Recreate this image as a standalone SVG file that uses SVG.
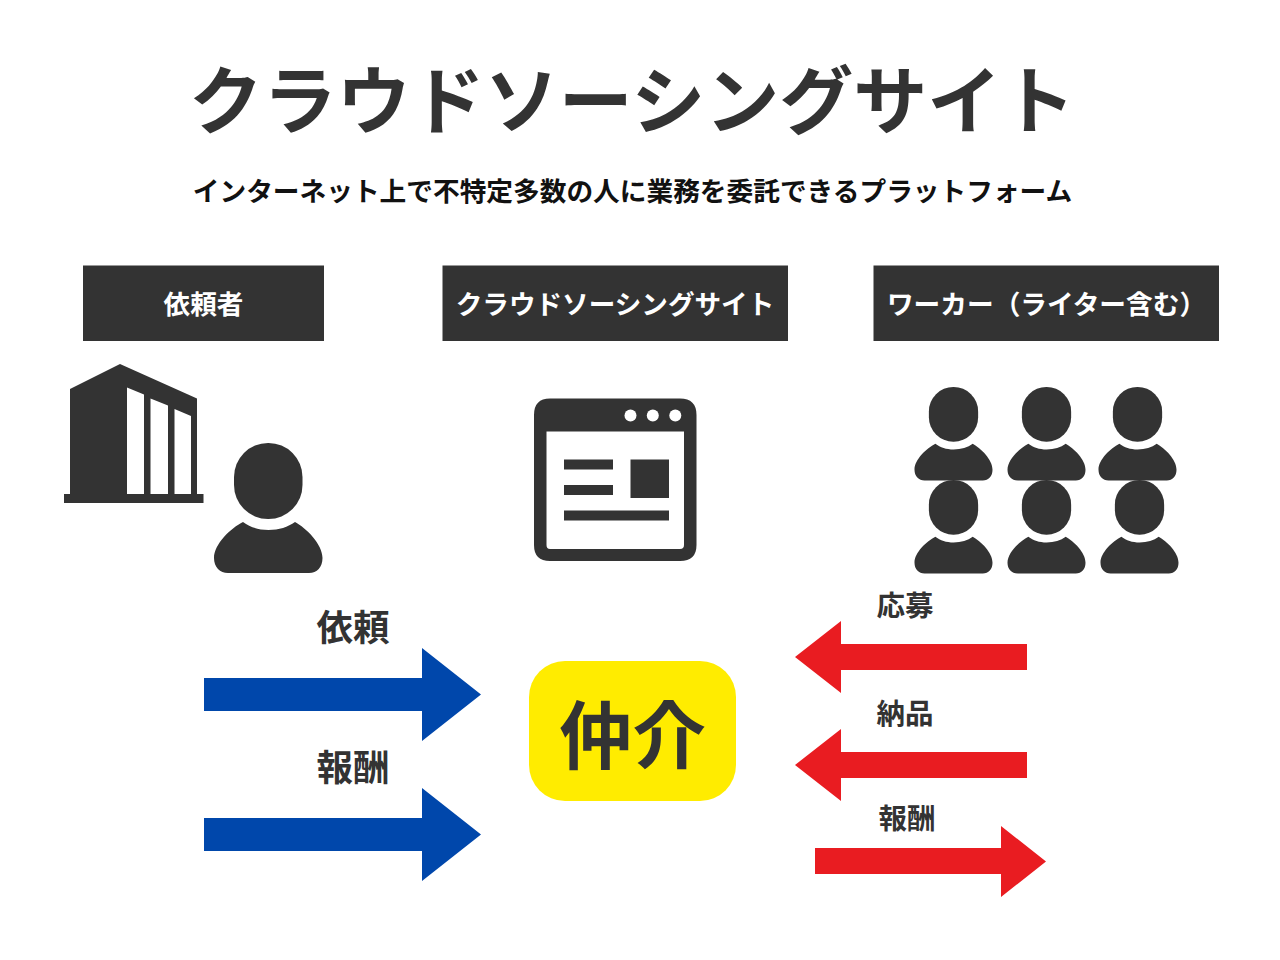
<svg xmlns="http://www.w3.org/2000/svg" width="1280" height="960" viewBox="0 0 1280 960">
<style>
text{font-family:"Noto Sans CJK JP","Noto Sans CJK SC",sans-serif;font-weight:700;fill:#333;text-anchor:middle}
.ic{fill:#333}
.w{fill:#fff}
.bl{fill:#0047ab}
.rd{fill:#e91c21}
</style>
<defs>
<g id="person">
<rect x="20" y="0" width="68.5" height="76" rx="34" ry="34"/>
<path d="M29 79C36 84 44 87 54.500 87C65 87 74 84 81 79C92 85 108.500 101 108.500 115C108.500 124 103 130 95 130L14 130C6 130 0 124 0 115C0 101 17 85 29 79Z"/>
</g>
</defs>
<rect width="1280" height="960" fill="#fff"/>
<text id="title" x="632" y="127.500" font-size="74">クラウドソーシングサイト</text>
<text id="subtitle" x="632.500" y="200.500" font-size="26.700" style="fill:#111">インターネット上で不特定多数の人に業務を委託できるプラットフォーム</text>
<g id="header-client"><rect class="ic" x="83" y="265.500" width="241" height="75.500"/><text style="fill:#fff" x="203.500" y="314" font-size="26.600">依頼者</text></g>
<g id="header-site"><rect class="ic" x="442.500" y="265.500" width="345.500" height="75.500"/><text style="fill:#fff" x="615" y="314" font-size="26.600">クラウドソーシングサイト</text></g>
<g id="header-worker"><rect class="ic" x="873.500" y="265.500" width="345.500" height="75.500"/><text style="fill:#fff" x="1046.500" y="314" font-size="26.700">ワーカー（ライター含む）</text></g>
<g id="client" class="ic">
<path fill-rule="evenodd" d="M70 389L120 364L197 398.500L197 494L203.500 494L203.500 503L64 503L64 494L70 494ZM127 387.500L127 494L144 494L144 394.500ZM150.500 398.500L150.500 494L168 494L168 405.500ZM174.500 409L174.500 494L191 494L191 416Z"/>
<use href="#person" x="214" y="443"/>
</g>
<g id="site" class="ic">
<path fill-rule="evenodd" d="M550 398.500L680 398.500Q696.500 398.500 696.500 415L696.500 545Q696.500 561 680 561L550 561Q534 561 534 545L534 415Q534 398.500 550 398.500ZM546.500 431.500L546.500 545Q546.500 549 550 549L680 549Q684 549 684 545L684 431.500Z"/>
<circle class="w" cx="630.500" cy="415.500" r="6"/><circle class="w" cx="652.800" cy="415.500" r="6"/><circle class="w" cx="675.300" cy="415.500" r="6"/>
<rect x="564" y="459.500" width="49" height="10"/><rect x="564" y="485" width="49" height="10"/><rect x="630.500" y="459.500" width="38.500" height="38.500"/><rect x="564" y="510.500" width="105" height="10"/>
</g>
<g id="workers" class="ic">
<use href="#person" transform="translate(914.500 387) scale(.719)"/>
<use href="#person" transform="translate(1007.500 387) scale(.719)"/>
<use href="#person" transform="translate(1098.500 387) scale(.719)"/>
<use href="#person" transform="translate(914.500 480) scale(.719)"/>
<use href="#person" transform="translate(1007.500 480) scale(.719)"/>
<use href="#person" transform="translate(1100.500 480) scale(.719)"/>
</g>
<g id="connectors">
<path class="bl" d="M204 678H422V648L481 694.500L422 741V711H204Z"/>
<path class="bl" d="M204 818H422V788L481 834.500L422 881V851H204Z"/>
<path class="rd" d="M1027 644H841V621L795 657L841 693V670H1027Z"/>
<path class="rd" d="M1027 752H841V729L795 765L841 801V778H1027Z"/>
<path class="rd" d="M815 848H1001V826L1046 861.500L1001 897V874H815Z"/>
</g>
<text x="353" y="641" font-size="36.500">依頼</text>
<text x="353" y="781" font-size="36.500">報酬</text>
<text x="905" y="616" font-size="28.500">応募</text>
<text x="905" y="724" font-size="28.500">納品</text>
<text x="907" y="829" font-size="28.500">報酬</text>
<g id="broker"><rect x="529" y="661" width="207" height="140" rx="36" fill="#ffec00"/><text x="632.500" y="762.500" font-size="73.500">仲介</text></g>
</svg>
